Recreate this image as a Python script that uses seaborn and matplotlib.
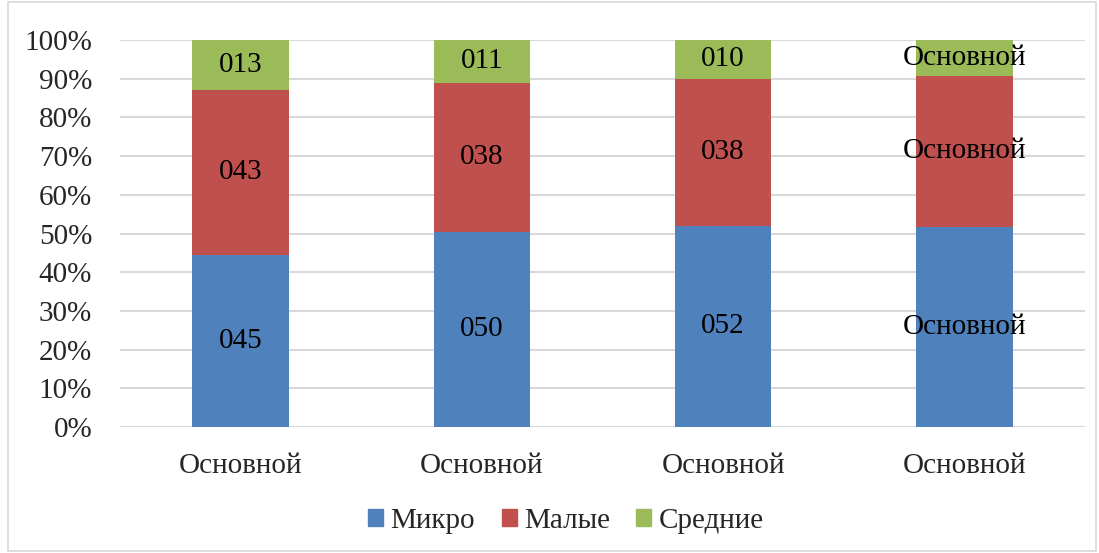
import matplotlib
matplotlib.use("Agg")
import matplotlib.pyplot as plt
from matplotlib.patches import Rectangle, Patch
import pandas as pd
import seaborn as sns

categories = ["Основной", "Основной", "Основной", "Основной"]
series = ["Микро", "Малые", "Средние"]
micro = [45, 50, 52, 51.7]
malye = [43, 38, 38, 39.0]
srednie = [13, 11, 10, 9.3]
labels_micro = ["045", "050", "052", "Основной"]
labels_malye = ["043", "038", "038", "Основной"]
labels_srednie = ["013", "011", "010", "Основной"]
colors = ["#4F81BD", "#C0504D", "#9BBB59"]

df = pd.DataFrame({"pos": range(len(categories)), "Микро": micro,
                   "Малые": malye, "Средние": srednie})
total = df[series].sum(axis=1)
for s in series:
    df[s] = df[s] / total
df["c1"] = df["Микро"]
df["c2"] = df["c1"] + df["Малые"]
df["c3"] = df["c2"] + df["Средние"]

sns.set_style("white")
plt.rcParams["font.family"] = ["Liberation Serif", "DejaVu Serif"]
FS = 21

fig = plt.figure(figsize=(10.99, 5.53), dpi=100)
ax = fig.add_axes([120 / 1099, 126 / 553, 965 / 1099, 387 / 553])

for col, c in zip(["c3", "c2", "c1"], colors[::-1]):
    sns.barplot(data=df, x="pos", y=col, color=c, width=0.4,
                saturation=1, linewidth=0, ax=ax, zorder=3)

for i in range(len(categories)):
    lows = [0, df["c1"][i], df["c2"][i]]
    highs = [df["c1"][i], df["c2"][i], df["c3"][i]]
    texts = [labels_micro[i], labels_malye[i], labels_srednie[i]]
    for lo, hi, t in zip(lows, highs, texts):
        ax.text(i, (lo + hi) / 2, t, ha="center", va="center",
                fontsize=FS, color="black", zorder=5)

ax.set_xlim(-0.5, 3.5)
ax.set_ylim(0, 1)
ax.set_yticks([i / 10 for i in range(11)])
ax.set_yticklabels([f"{i * 10}%" for i in range(11)], fontsize=FS)
ax.set_xticks(range(len(categories)))
ax.set_xticklabels(categories, fontsize=FS)
ax.set_xlabel("")
ax.set_ylabel("")
ax.yaxis.grid(True, color="#D9D9D9", linewidth=1.5, zorder=0)
ax.set_axisbelow(True)
for sp in ax.spines.values():
    sp.set_visible(False)
ax.tick_params(axis="y", length=0, pad=20)
ax.tick_params(axis="x", length=0, pad=19)

handles = [Patch(color=c, label=s) for s, c in zip(series, colors)]
fig.legend(handles=handles, loc="center", bbox_to_anchor=(566 / 1099, 1 - 521 / 553),
           ncol=3, frameon=False, fontsize=FS, handlelength=0.52,
           handleheight=0.52, handletextpad=0.25, columnspacing=0.9)

fig.patches.append(Rectangle((8 / 1099, 2 / 553), 1088 / 1099, 549 / 553,
                             transform=fig.transFigure, fill=False,
                             edgecolor="#D9D9D9", linewidth=1.2))

fig.savefig("out.png", dpi=100)
